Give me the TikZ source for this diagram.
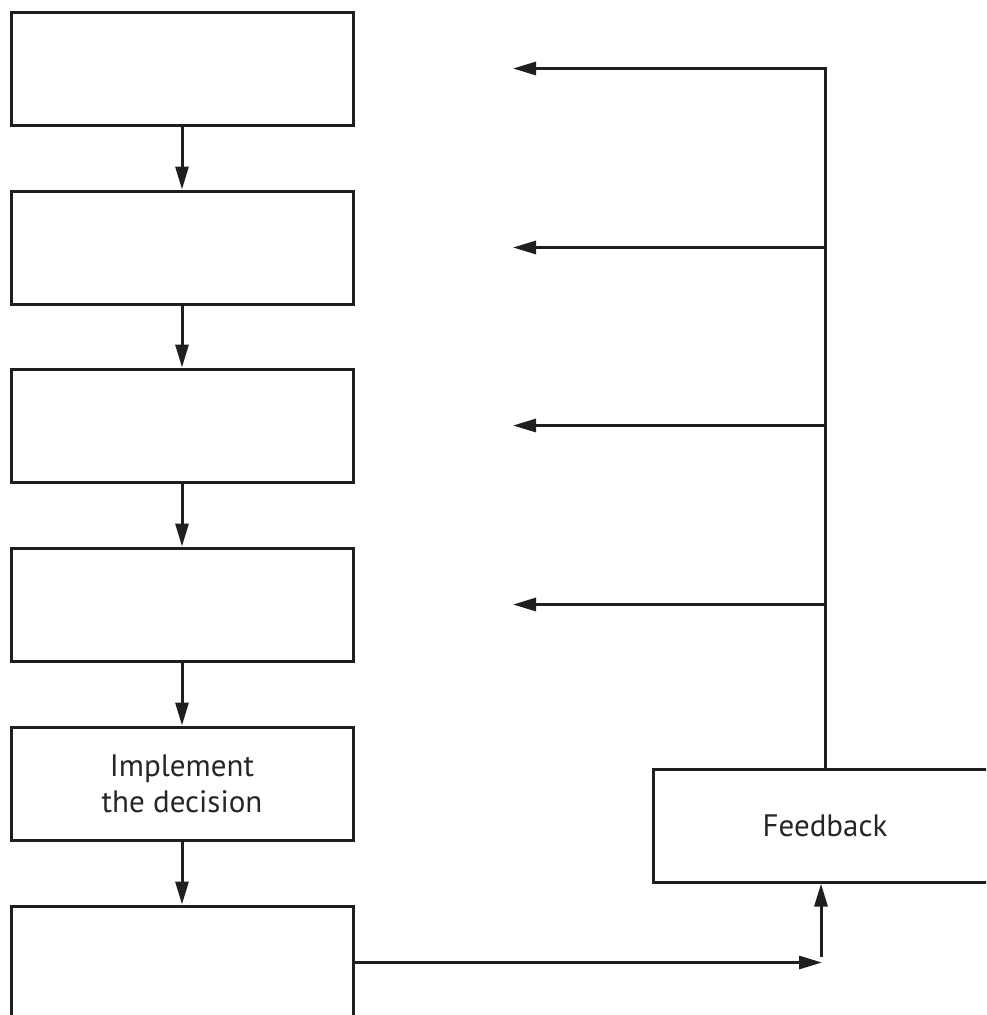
\documentclass[tikz,border=0pt]{standalone}
\usepackage{fontspec}
\setmainfont{PT Sans}
\usetikzlibrary{arrows.meta}
\tikzset{
  box/.style={draw=black!88, line width=3pt, minimum width=342pt, minimum height=113pt, inner sep=0pt, align=center, font=\fontsize{31}{36}\selectfont, text=black!85},
  conn/.style={draw=black!88, line width=3pt},
  arr/.style={conn, -{Triangle[length=23pt, width=13pt]}}
}
\begin{document}
\begin{tikzpicture}[x=1pt, y=-1pt]
\useasboundingbox (0,0) rectangle (986,1015);
\clip (0,0) rectangle (986,1015);
\node[box] (b1) at (182,68.5) {};
\node[box] (b2) at (182,247.5) {};
\node[box] (b3) at (182,425.5) {};
\node[box] (b4) at (182,604.5) {};
\node[box] (b5) at (182,783.5) {Implement\\the decision};
\node[box, minimum width=344pt] (fb) at (825,825.5) {Feedback};
\node[box] (b6) at (182,962.5) {};
\draw[arr] (b1) -- (b2);
\draw[arr] (b2) -- (b3);
\draw[arr] (b3) -- (b4);
\draw[arr] (b4) -- (b5);
\draw[arr] (b5) -- (b6);
\coordinate (j1) at (825,68.5);
\coordinate (j2) at (825,247.5);
\coordinate (j3) at (825,425.5);
\coordinate (j4) at (825,604.5);
\coordinate (t1) at (513,68.5);
\coordinate (t2) at (513,247.5);
\coordinate (t3) at (513,425.5);
\coordinate (t4) at (513,604.5);
\draw[conn, line cap=rect] (fb.north) -- (j1);
\draw[arr] (j1) -- (t1);
\draw[arr] (j2) -- (t2);
\draw[arr] (j3) -- (t3);
\draw[arr] (j4) -- (t4);
\coordinate (c) at (822,962.5);
\coordinate (u) at (821,957);
\draw[arr] (b6.east) -- (c);
\draw[arr] (u) -- (u |- fb.south);
\end{tikzpicture}
\end{document}
